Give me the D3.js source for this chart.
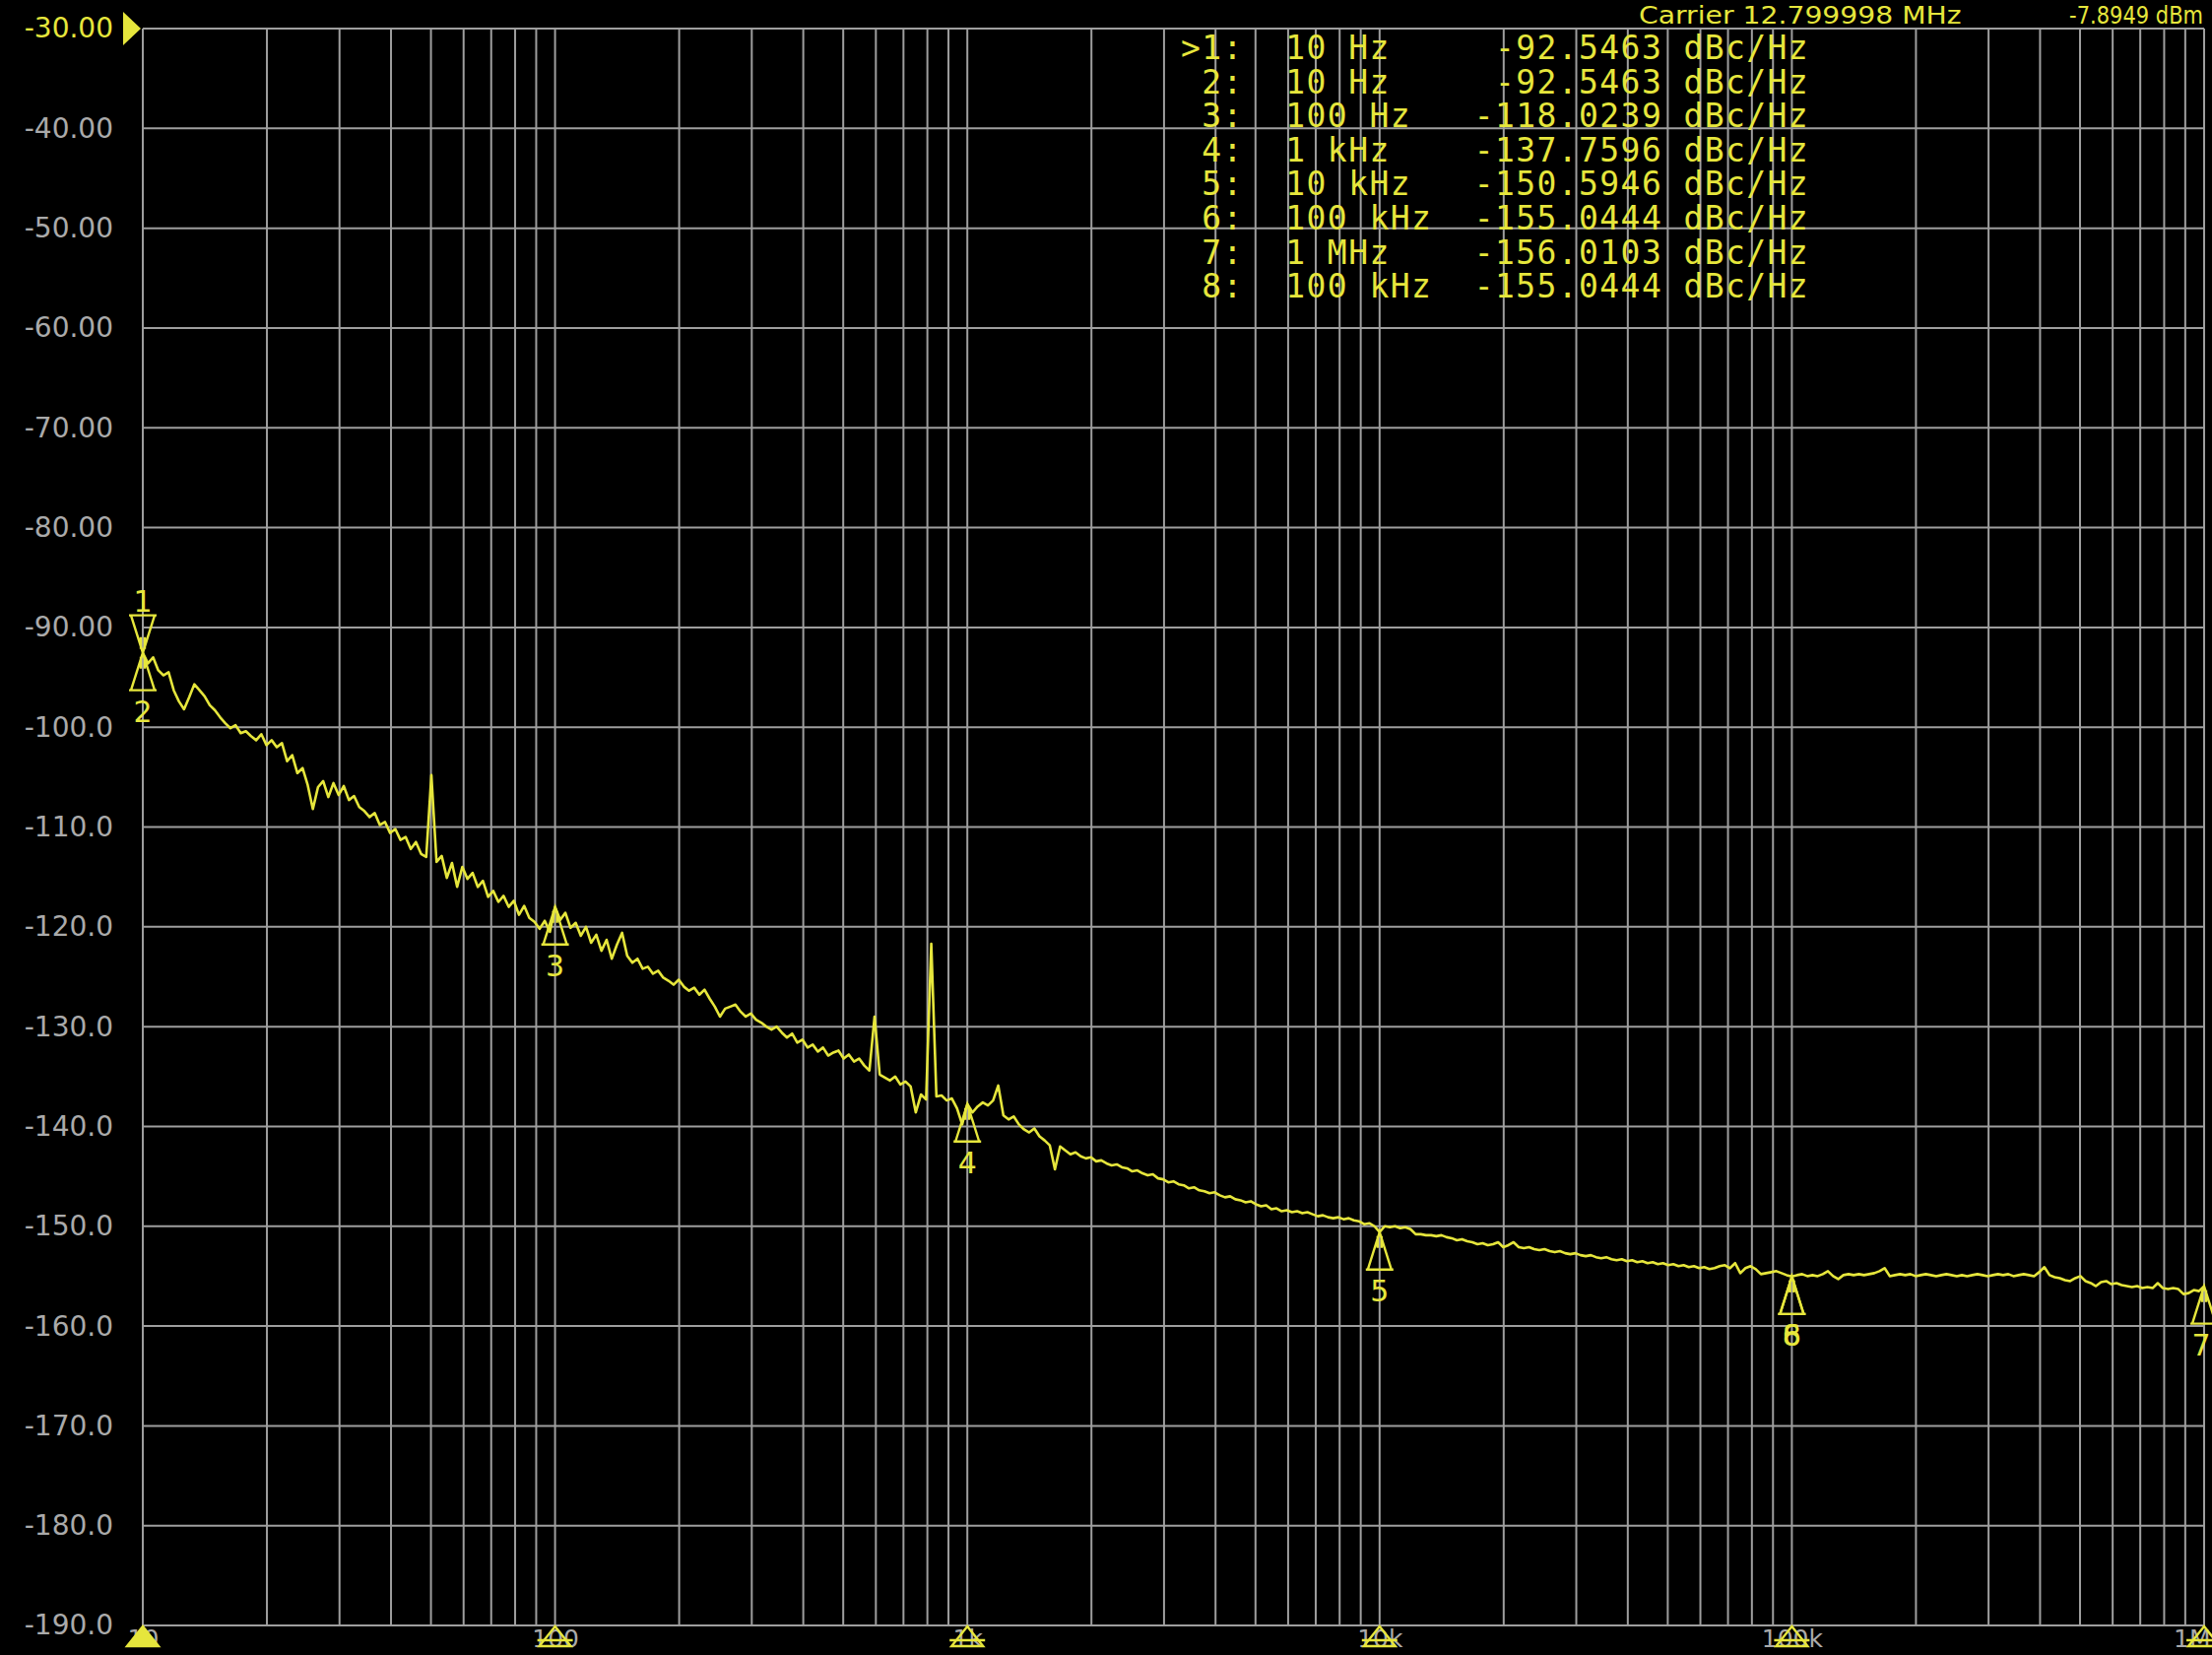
<!DOCTYPE html>
<html>
<head>
<meta charset="utf-8">
<script src="https://cdn.jsdelivr.net/npm/d3@7"></script>
<style>
  html, body { margin: 0; padding: 0; background: #000; overflow: hidden; }
  svg { display: block; }
</style>
</head>
<body>
<svg id="chart" width="2246" height="1680"></svg>
<script>
// ---- Sweep definition: log sweep from 10 Hz offset, 80 points per decade, 5 decades ----
const sweepStartHz = 10;
const pointsPerDecade = 80;

// Measured single-sideband phase noise, dBc/Hz, one value per sweep point
const traceDbc = [
  // 10 Hz .. 100 Hz
  -92.55,-93.6,-93.0,-94.3,-94.8,-94.5,-96.3,-97.4,-98.2,-97.0,
  -95.7,-96.3,-96.9,-97.8,-98.3,-99.0,-99.6,-100.1,-99.8,-100.6,
  -100.4,-100.9,-101.3,-100.7,-101.8,-101.3,-102.0,-101.6,-103.4,-102.8,
  -104.6,-104.1,-105.8,-108.2,-106.0,-105.4,-107.0,-105.6,-106.8,-105.9,
  -107.3,-106.9,-108.0,-108.4,-109.0,-108.6,-109.8,-109.5,-110.6,-110.2,
  -111.3,-111.0,-112.2,-111.5,-112.7,-113.0,-104.8,-113.5,-112.9,-115.1,
  -113.6,-116.0,-114.0,-115.2,-114.6,-116.0,-115.4,-117.0,-116.4,-117.5,
  -116.9,-118.0,-117.4,-118.8,-117.9,-119.1,-119.5,-120.2,-119.4,-120.5,
  // 100 Hz .. 1 kHz
  -118.02,-119.3,-118.6,-120.1,-119.6,-120.9,-120.0,-121.6,-120.8,-122.4,
  -121.3,-123.2,-121.8,-120.6,-122.9,-123.6,-123.2,-124.2,-124.0,-124.7,
  -124.4,-125.1,-125.4,-125.8,-125.3,-126.0,-126.4,-126.1,-126.8,-126.3,
  -127.2,-128.0,-129.0,-128.2,-128.0,-127.8,-128.5,-129.0,-128.7,-129.3,
  -129.6,-130.0,-130.3,-130.0,-130.6,-131.1,-130.7,-131.6,-131.3,-132.1,
  -131.8,-132.5,-132.1,-132.9,-132.6,-132.4,-133.2,-132.8,-133.5,-133.2,
  -133.9,-134.4,-129.0,-134.8,-135.1,-135.4,-135.0,-135.8,-135.5,-136.0,
  -138.6,-136.8,-137.3,-121.7,-137.0,-136.9,-137.4,-137.2,-138.2,-139.8,
  // 1 kHz .. 10 kHz
  -137.76,-138.6,-138.0,-137.6,-137.9,-137.4,-135.9,-138.9,-139.3,-139.0,
  -139.8,-140.3,-140.6,-140.2,-141.0,-141.4,-141.9,-144.3,-142.0,-142.4,
  -142.8,-142.6,-143.0,-143.2,-143.1,-143.5,-143.4,-143.7,-143.9,-143.8,
  -144.1,-144.2,-144.5,-144.4,-144.7,-144.9,-144.8,-145.2,-145.3,-145.6,
  -145.5,-145.8,-145.9,-146.2,-146.1,-146.4,-146.5,-146.7,-146.6,-146.9,
  -147.1,-147.0,-147.3,-147.4,-147.6,-147.5,-147.8,-148.0,-147.9,-148.3,
  -148.2,-148.5,-148.4,-148.6,-148.5,-148.7,-148.6,-148.8,-149.0,-148.9,
  -149.1,-149.2,-149.1,-149.3,-149.2,-149.4,-149.5,-149.8,-149.7,-150.0,
  // 10 kHz .. 100 kHz
  -150.59,-150.0,-150.1,-150.0,-150.2,-150.1,-150.3,-150.8,-150.8,-150.9,
  -150.9,-151.0,-150.9,-151.1,-151.2,-151.4,-151.3,-151.5,-151.6,-151.8,
  -151.7,-151.9,-151.8,-151.6,-152.1,-151.9,-151.6,-152.1,-152.2,-152.1,
  -152.3,-152.4,-152.3,-152.5,-152.6,-152.5,-152.7,-152.8,-152.7,-152.9,
  -153.0,-152.9,-153.1,-153.2,-153.1,-153.3,-153.4,-153.3,-153.5,-153.4,
  -153.6,-153.5,-153.7,-153.6,-153.8,-153.7,-153.9,-153.8,-154.0,-153.9,
  -154.1,-154.0,-154.2,-154.1,-154.3,-154.2,-154.0,-153.9,-154.2,-153.7,
  -154.7,-154.2,-154.0,-154.3,-154.8,-154.7,-154.6,-154.5,-154.7,-154.9,
  // 100 kHz .. 1 MHz
  -155.04,-154.9,-154.8,-155.0,-154.9,-155.0,-154.8,-154.5,-155.0,-155.3,
  -154.9,-154.8,-154.9,-154.8,-154.9,-154.8,-154.7,-154.5,-154.2,-155.0,
  -154.9,-154.8,-154.9,-154.8,-155.0,-154.9,-154.8,-154.9,-155.0,-154.9,
  -154.8,-154.9,-155.0,-154.9,-155.0,-154.9,-154.8,-154.9,-155.0,-154.9,
  -154.8,-154.9,-154.8,-155.0,-154.9,-154.8,-154.9,-155.0,-154.6,-154.1,
  -154.9,-155.1,-155.2,-155.4,-155.5,-155.2,-155.0,-155.5,-155.7,-156.0,
  -155.6,-155.5,-155.8,-155.7,-155.9,-156.0,-156.1,-156.0,-156.2,-156.1,
  -156.2,-155.7,-156.2,-156.3,-156.2,-156.3,-156.8,-156.7,-156.4,-156.5,
  -156.01
];

// Sweep frequency of each trace point (log-spaced sweep grid)
const sweepHz = traceDbc.map((_, i) => sweepStartHz * Math.pow(10, i / pointsPerDecade));

// Markers
const markerIds  = [1, 2, 3, 4, 5, 6, 7, 8];
const markerHz   = [10, 10, 100, 1000, 10000, 100000, 1000000, 100000];
const markerDbc  = [-92.5463, -92.5463, -118.0239, -137.7596, -150.5946, -155.0444, -156.0103, -155.0444];
const activeMarker = 1;

// Axes
const yTicks      = [-30, -40, -50, -60, -70, -80, -90, -100, -110, -120, -130, -140, -150, -160, -170, -180, -190];
const yTickLabels = ["-30.00", "-40.00", "-50.00", "-60.00", "-70.00", "-80.00", "-90.00",
                     "-100.0", "-110.0", "-120.0", "-130.0", "-140.0", "-150.0", "-160.0", "-170.0", "-180.0", "-190.0"];
const xDecades      = [10, 100, 1000, 10000, 100000, 1000000];
const xDecadeLabels = ["10", "100", "1k", "10k", "100k", "1M"];

// Header
const carrierLabel = "Carrier 12.799998 MHz";
const carrierPowerLabel = "-7.8949 dBm";

// ---- Drawing ----
const YELLOW = "#e6e63c";
const GRID = "#9e9e9e";
const LABEL = "#aaaaaa";
const W = 2246, H = 1680;

const svg = d3.select("#chart");
svg.append("rect").attr("width", W).attr("height", H).attr("fill", "#000");

const plotLeft = 145, plotRight = 2238, plotTop = 29, plotBottom = 1650;
const x = d3.scaleLog().domain([10, 1e6]).range([plotLeft, plotRight]);
const y = d3.scaleLinear().domain([-190, -30]).range([plotBottom, plotTop]);

// Grid: vertical log lines and horizontal 10 dB lines
const grid = svg.append("g").attr("stroke", GRID).attr("stroke-width", 2);
grid.selectAll("line.v").data(x.ticks()).join("line")
  .attr("class", "v")
  .attr("x1", d => x(d)).attr("x2", d => x(d))
  .attr("y1", plotTop).attr("y2", plotBottom);
grid.selectAll("line.h").data(yTicks).join("line")
  .attr("class", "h")
  .attr("x1", plotLeft).attr("x2", plotRight)
  .attr("y1", d => y(d)).attr("y2", d => y(d));

// Y axis labels
const yAxis = d3.axisLeft(y)
  .tickValues(yTicks)
  .tickSize(0)
  .tickPadding(30)
  .tickFormat((d, i) => yTickLabels[i]);
const gy = svg.append("g").attr("transform", `translate(${plotLeft},0)`).call(yAxis);
gy.select(".domain").remove();
gy.selectAll("text")
  .attr("font-family", "DejaVu Sans")
  .attr("font-size", 28)
  .attr("fill", (d, i) => i === 0 ? YELLOW : LABEL);

// Reference level pointer
svg.append("path")
  .attr("d", `M${plotLeft - 20},${y(-30) - 17}L${plotLeft - 2},${y(-30)}L${plotLeft - 20},${y(-30) + 17}Z`)
  .attr("fill", YELLOW);

// X axis decade labels (sit on the bottom edge of the screen)
const xAxis = d3.axisBottom(x)
  .tickValues(xDecades)
  .tickSize(0)
  .tickPadding(4)
  .tickFormat((d, i) => xDecadeLabels[i]);
const gx = svg.append("g").attr("transform", `translate(0,${plotBottom})`).call(xAxis);
gx.select(".domain").remove();
gx.selectAll("text")
  .attr("font-family", "DejaVu Sans")
  .attr("font-size", 25)
  .attr("fill", LABEL)
  .attr("text-anchor", (d, i) => i === xDecades.length - 1 ? "end" : "middle")
  .attr("dx", (d, i) => i === xDecades.length - 1 ? 6 : 0);

// Trace
const trace = sweepHz.map((hz, i) => ({ hz, dbc: traceDbc[i] }));
svg.append("path")
  .datum(trace)
  .attr("fill", "none")
  .attr("stroke", YELLOW)
  .attr("stroke-width", 2.6)
  .attr("stroke-linejoin", "round")
  .attr("d", d3.line().x(d => x(d.hz)).y(d => y(d.dbc)));

// Markers on the trace
const markers = markerIds.map((id, i) => ({ id, hz: markerHz[i], dbc: markerDbc[i] }));
const mg = svg.append("g").attr("stroke", YELLOW).attr("fill", "none").attr("stroke-width", 2.4);
const triH = 38, triW = 12;
markers.forEach(m => {
  const mx = x(m.hz), my = y(m.dbc);
  const dir = m.id === activeMarker ? -1 : 1;   // active marker sits above the trace
  const by = my + dir * triH;
  mg.append("path").attr("d",
    `M${mx},${my}L${mx - triW},${by}L${mx + triW},${by}Z` +
    `M${mx - 14},${by}L${mx + 14},${by}` +
    `M${mx - 2},${my + dir * 4}L${mx - 2},${my + dir * 16}M${mx + 2},${my + dir * 4}L${mx + 2},${my + dir * 16}`);
  svg.append("text")
    .attr("x", Math.min(mx, W - 11))
    .attr("y", dir < 0 ? by - 4 : by + 32)
    .attr("text-anchor", "middle")
    .attr("font-family", "DejaVu Sans")
    .attr("font-size", 30)
    .attr("fill", YELLOW)
    .text(m.id);
});

// Marker position pointers on the frequency axis
const bg = svg.append("g");
const pointerHz = Array.from(new Set(markerHz));
const activeHz = markerHz[markerIds.indexOf(activeMarker)];
pointerHz.forEach(hz => {
  const px = x(hz);
  const active = hz === activeHz;
  bg.append("path")
    .attr("d", `M${px},${plotBottom + 1}L${px - 16},${plotBottom + 21}L${px + 16},${plotBottom + 21}Z`)
    .attr("fill", active ? YELLOW : "none")
    .attr("stroke", YELLOW)
    .attr("stroke-width", 2.4);
  if (!active) {
    bg.append("line")
      .attr("x1", px - 18).attr("x2", px + 18)
      .attr("y1", plotBottom + 15).attr("y2", plotBottom + 15)
      .attr("stroke", YELLOW).attr("stroke-width", 2.4);
  }
});

// Header: carrier frequency and power (condensed instrument font)
svg.append("text")
  .attr("transform", "translate(1664,24) scale(1.13,1)")
  .attr("font-family", "DejaVu Sans").attr("font-size", 25)
  .attr("fill", YELLOW)
  .text(carrierLabel);
svg.append("text")
  .attr("transform", "translate(2237,24) scale(0.84,1)")
  .attr("text-anchor", "end")
  .attr("font-family", "DejaVu Sans").attr("font-size", 25)
  .attr("fill", YELLOW)
  .text(carrierPowerLabel);

// Marker readout table
function hzLabel(hz) {
  if (hz >= 1e6) return (hz / 1e6) + " MHz";
  if (hz >= 1e3) return (hz / 1e3) + " kHz";
  return hz + " Hz";
}
const table = svg.append("g")
  .attr("font-family", "DejaVu Sans Mono")
  .attr("font-size", 33)
  .attr("letter-spacing", 1.4)
  .attr("fill", YELLOW)
  .style("white-space", "pre");
markers.forEach((m, i) => {
  const row = (m.id === activeMarker ? ">" : " ") + m.id + ":  " +
              hzLabel(m.hz).padEnd(9) + m.dbc.toFixed(4).padStart(9) + " dBc/Hz";
  table.append("text")
    .attr("x", 1199)
    .attr("y", 60 + i * 34.6)
    .attr("xml:space", "preserve")
    .text(row);
});
</script>
</body>
</html>
